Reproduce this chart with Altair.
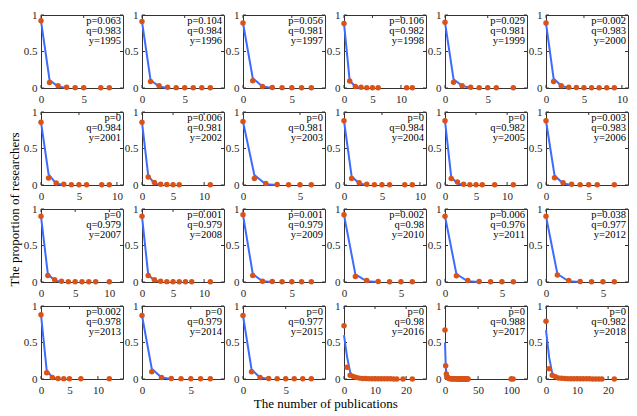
import altair as alt
import pandas as pd

FONT = "Liberation Serif"
BLUE = "#3d6bff"
ORANGE = "#d95319"
W, H = 82, 73
TICK = 3

YEARS = list(range(1995, 2019))
P_VALS = ["0.063", "0.104", "0.056", "0.106", "0.029", "0.002",
          "0", "0.006", "0", "0", "0", "0.003",
          "0", "0.001", "0.001", "0.002", "0.006", "0.038",
          "0.002", "0", "0", "0", "0", "0"]
Q_VALS = ["0.983", "0.984", "0.981", "0.982", "0.981", "0.983",
          "0.984", "0.981", "0.981", "0.984", "0.982", "0.983",
          "0.979", "0.979", "0.979", "0.98", "0.976", "0.977",
          "0.978", "0.979", "0.977", "0.98", "0.988", "0.982"]

X_MAX = [9.6, 9.6, 8.4, 14.4, 9.6, 10.8,
         10.8, 13.2, 7.2, 10.8, 13.2, 9.6,
         12, 13.2, 8.4, 7.2, 7.2, 7.2,
         14.4, 8.4, 9.6, 26.4, 124, 26.4]

X_TICKS = [[0, 5], [0, 5], [0, 5], [0, 5, 10], [0, 5], [0, 5, 10],
           [0, 5, 10], [0, 5, 10], [0, 5], [0, 5, 10], [0, 5, 10], [0, 5],
           [0, 5, 10], [0, 5, 10], [0, 5], [0, 5], [0, 5], [0, 5],
           [0, 5, 10], [0, 5], [0, 5], [0, 10, 20], [0, 50, 100], [0, 10, 20]]
Y_TICKS = [0, 0.5, 1]

# observed proportions (orange dots)
DOT_X = [
    [0, 1, 2, 3, 4, 5, 7, 8],
    [0, 1, 2, 3, 4, 5, 6, 7, 8],
    [0, 1, 2, 3, 4, 5, 6, 7],
    [0, 1, 2, 3, 4, 5, 6, 11, 12],
    [0, 1, 2, 3, 4, 5, 6, 8],
    [0, 1, 2, 3, 4, 5, 6, 7, 8, 9],
    [0, 1, 2, 3, 4, 5, 6, 8, 9],
    [0, 1, 2, 3, 4, 5, 6, 11],
    [0, 1, 2, 3, 4, 5, 6],
    [0, 1, 2, 3, 4, 5, 6, 8, 9],
    [0, 1, 2, 3, 4, 5, 6, 8, 11],
    [0, 1, 2, 3, 4, 5, 6, 8],
    [0, 1, 2, 3, 4, 5, 6, 7, 8, 10],
    [0, 1, 2, 3, 4, 5, 6, 7, 8, 11],
    [0, 1, 2, 3, 4, 5, 6, 7],
    [0, 1, 2, 3, 4, 5, 6],
    [0, 1, 2, 3, 4, 5, 6],
    [0, 1, 2, 3, 4, 5, 6],
    [0, 1, 2, 3, 4, 5, 7, 12],
    [0, 1, 2, 3, 4, 5, 6, 7],
    [0, 1, 2, 3, 4, 5, 6, 7, 8],
    [0, 1, 2, 3, 4, 5, 6, 7, 8, 9, 10, 11, 12, 13, 14, 15, 16, 17, 19, 22],
    [0, 1, 2, 3, 4, 5, 6, 7, 8, 9, 10, 11, 12, 13, 14, 15, 16, 17, 18, 19,
     20, 21, 22, 23, 24, 25, 26, 27, 28, 29, 30, 31, 32, 33, 34, 35, 100, 103],
    [0, 1, 2, 3, 4, 5, 6, 7, 8, 9, 10, 11, 12, 13, 14, 15, 16, 17, 18, 22],
]
DOT_Y = [
    [0.92, 0.075, 0.03, 0.01, 0.005, 0.004, 0.002, 0.002],
    [0.91, 0.09, 0.03, 0.01, 0.005, 0.004, 0.003, 0.002, 0.002],
    [0.89, 0.10, 0.02, 0.008, 0.005, 0.003, 0.002, 0.002],
    [0.885, 0.095, 0.02, 0.01, 0.005, 0.004, 0.003, 0.002, 0.002],
    [0.90, 0.08, 0.03, 0.01, 0.005, 0.004, 0.003, 0.002],
    [0.89, 0.09, 0.03, 0.01, 0.006, 0.004, 0.003, 0.002, 0.002, 0.002],
    [0.86, 0.097, 0.026, 0.01, 0.005, 0.004, 0.003, 0.002, 0.002],
    [0.86, 0.11, 0.035, 0.01, 0.006, 0.004, 0.003, 0.002],
    [0.87, 0.09, 0.02, 0.008, 0.004, 0.003, 0.002],
    [0.88, 0.09, 0.03, 0.01, 0.005, 0.004, 0.003, 0.002, 0.002],
    [0.88, 0.09, 0.04, 0.01, 0.005, 0.004, 0.003, 0.002, 0.002],
    [0.88, 0.10, 0.03, 0.01, 0.005, 0.004, 0.003, 0.002],
    [0.90, 0.09, 0.03, 0.01, 0.005, 0.004, 0.003, 0.002, 0.002, 0.002],
    [0.90, 0.09, 0.03, 0.01, 0.005, 0.004, 0.003, 0.002, 0.002, 0.002],
    [0.92, 0.09, 0.01, 0.006, 0.004, 0.003, 0.002, 0.002],
    [0.92, 0.075, 0.02, 0.006, 0.004, 0.003, 0.002],
    [0.90, 0.085, 0.02, 0.006, 0.004, 0.003, 0.002],
    [0.90, 0.095, 0.02, 0.006, 0.004, 0.003, 0.002],
    [0.88, 0.085, 0.02, 0.008, 0.005, 0.003, 0.002, 0.002],
    [0.87, 0.10, 0.02, 0.008, 0.005, 0.003, 0.002, 0.002],
    [0.87, 0.10, 0.02, 0.008, 0.005, 0.003, 0.002, 0.002, 0.002],
    [0.73, 0.16, 0.05, 0.035, 0.02, 0.012, 0.008, 0.006, 0.005, 0.004,
     0.003, 0.003, 0.002, 0.002, 0.002, 0.002, 0.001, 0.001, 0.001, 0.001],
    [0.67, 0.18, 0.07, 0.03, 0.02, 0.012, 0.008, 0.006, 0.005, 0.004,
     0.004, 0.003, 0.003, 0.003, 0.002, 0.002, 0.002, 0.002, 0.002, 0.002,
     0.001, 0.001, 0.001, 0.001, 0.001, 0.001, 0.001, 0.001, 0.001, 0.001,
     0.001, 0.001, 0.001, 0.001, 0.001, 0.001, 0.001, 0.001],
    [0.79, 0.14, 0.05, 0.03, 0.015, 0.01, 0.007, 0.005, 0.004, 0.003,
     0.003, 0.002, 0.002, 0.002, 0.002, 0.001, 0.001, 0.001, 0.001, 0.001],
]

# fitted model (blue line)
FIT_X = [[0, 1, 2, 3]] * 21 + [[0, 1, 2, 3, 4, 5], [0, 1, 2, 3, 4], [0, 1, 2, 3, 4]]
FIT_Y = [
    [0.92, 0.11, 0.02, 0.0],
    [0.91, 0.11, 0.02, 0.0],
    [0.89, 0.135, 0.02, 0.0],
    [0.885, 0.10, 0.02, 0.0],
    [0.90, 0.12, 0.03, 0.0],
    [0.89, 0.13, 0.03, 0.0],
    [0.86, 0.145, 0.02, 0.0],
    [0.86, 0.13, 0.02, 0.0],
    [0.87, 0.135, 0.01, 0.0],
    [0.88, 0.12, 0.02, 0.0],
    [0.88, 0.11, 0.02, 0.0],
    [0.88, 0.13, 0.02, 0.0],
    [0.90, 0.11, 0.02, 0.0],
    [0.90, 0.10, 0.02, 0.0],
    [0.92, 0.11, 0.01, 0.0],
    [0.92, 0.105, 0.01, 0.0],
    [0.90, 0.11, 0.01, 0.0],
    [0.90, 0.11, 0.01, 0.0],
    [0.88, 0.12, 0.02, 0.0],
    [0.87, 0.14, 0.02, 0.0],
    [0.87, 0.13, 0.02, 0.0],
    [0.60, 0.30, 0.09, 0.03, 0.01, 0.0],
    [0.50, 0.20, 0.06, 0.02, 0.0],
    [0.67, 0.30, 0.08, 0.02, 0.0],
]


def panel(i):
    xs = alt.Scale(domain=[0, X_MAX[i]], nice=False, zero=False)
    ys = alt.Scale(domain=[0, 1], nice=False)
    xax = alt.Axis(values=X_TICKS[i], format="d", title=None, labelAngle=0,
                   labelPadding=5, labelFlush=False)
    yax = alt.Axis(values=Y_TICKS, format="~g", title=None, labelPadding=4,
                   labelFlush=False)
    dots = pd.DataFrame({"x": DOT_X[i], "y": DOT_Y[i]})
    fit = pd.DataFrame({"x": FIT_X[i], "y": FIT_Y[i]})
    xt = pd.DataFrame({"t": X_TICKS[i]})
    yt = pd.DataFrame({"t": Y_TICKS})
    lab = pd.DataFrame({"label": ["p=%s\nq=%s\ny=%d" % (P_VALS[i], Q_VALS[i], YEARS[i])]})

    X = lambda f: alt.X(f, scale=xs, axis=xax)
    Y = lambda f: alt.Y(f, scale=ys, axis=yax)

    line = alt.Chart(fit).mark_line(color=BLUE, strokeWidth=2).encode(
        x=X("x:Q"), y=Y("y:Q"))
    pts = alt.Chart(dots).mark_circle(color=ORANGE, size=30, opacity=1).encode(
        x=X("x:Q"), y=Y("y:Q"))
    xb = alt.Chart(xt).mark_rule(color="#333333", strokeWidth=1).encode(
        x=X("t:Q"), y=alt.value(H), y2=alt.value(H - TICK))
    xtop = alt.Chart(xt).mark_rule(color="#333333", strokeWidth=1).encode(
        x=X("t:Q"), y=alt.value(0), y2=alt.value(TICK))
    yl = alt.Chart(yt).mark_rule(color="#333333", strokeWidth=1).encode(
        y=Y("t:Q"), x=alt.value(0), x2=alt.value(TICK))
    yr = alt.Chart(yt).mark_rule(color="#333333", strokeWidth=1).encode(
        y=Y("t:Q"), x=alt.value(W), x2=alt.value(W - TICK))
    txt = alt.Chart(lab).mark_text(
        align="right", baseline="top", font=FONT, fontSize=10.5,
        lineHeight=10, lineBreak="\n", color="black"
    ).encode(x=alt.value(W - 2), y=alt.value(1), text="label:N")
    return alt.layer(xb, xtop, yl, yr, line, pts, txt).properties(width=W, height=H)


rows = []
for r in range(4):
    rows.append(alt.hconcat(*[panel(r * 6 + c) for c in range(6)],
                            spacing=19, bounds="flush"))

body = alt.vconcat(*rows, spacing=0,
                   title=alt.TitleParams("The number of publications", orient="bottom",
                                         anchor="middle", font=FONT, fontSize=13,
                                         fontWeight="normal", color="black", offset=2))

chart = alt.hconcat(
    body,
    title=alt.TitleParams("The proportion of researchers", orient="left",
                          anchor="middle", font=FONT, fontSize=13,
                          fontWeight="normal", color="black", offset=1),
    padding={"left": 0, "top": 0, "right": 0, "bottom": 0},
).configure_view(
    stroke="#333333", strokeWidth=1
).configure_axis(
    grid=False, ticks=False, domain=False, labelFont=FONT, labelFontSize=11,
    labelColor="#262626"
)

chart.save("out.html", embed_options={"renderer": "svg", "actions": False})
